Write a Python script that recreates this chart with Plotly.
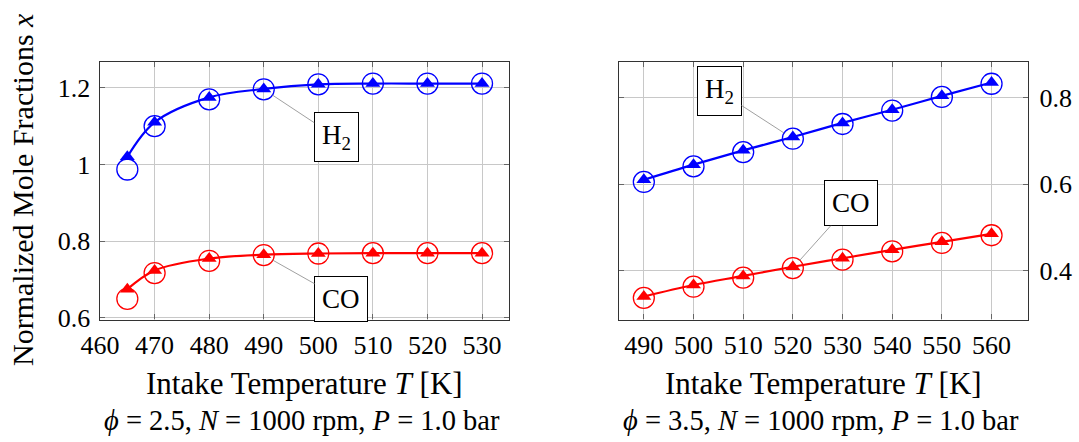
import plotly.graph_objects as go

# Left panel (phi = 2.5)
T_left = [465, 470, 480, 490, 500, 510, 520, 530]
h2_left_sim = [1.02, 1.11, 1.175, 1.197, 1.209, 1.211, 1.211, 1.211]
h2_left_exp = [0.987, 1.10, 1.17, 1.196, 1.209, 1.211, 1.211, 1.211]
co_left_sim = [0.675, 0.724, 0.755, 0.765, 0.768, 0.769, 0.769, 0.769]
co_left_exp = [0.65, 0.717, 0.749, 0.764, 0.768, 0.769, 0.769, 0.769]

# Right panel (phi = 3.5)
T_right = [490, 500, 510, 520, 530, 540, 550, 560]
h2_right_sim = [0.61, 0.645, 0.678, 0.709, 0.7415, 0.772, 0.804, 0.835]
h2_right_exp = [0.605, 0.641, 0.674, 0.705, 0.739, 0.770, 0.8016, 0.832]
co_right_sim = [0.340, 0.3667, 0.3877, 0.409, 0.4285, 0.448, 0.4665, 0.485]
co_right_exp = [0.337, 0.3629, 0.3838, 0.406, 0.4254, 0.4446, 0.464, 0.4818]

left_xticks = [460, 470, 480, 490, 500, 510, 520, 530]
left_yticks = [0.6, 0.8, 1.0, 1.2]
left_ytext = ["0.6", "0.8", "1", "1.2"]
right_xticks = [490, 500, 510, 520, 530, 540, 550, 560]
right_yticks = [0.4, 0.6, 0.8]

FONT = "Liberation Serif"
FS = 26
FT = 30
BLUE = "#0000ff"
RED = "#ff0000"

fig = go.Figure()

def add_series(x, sim, exp, color, xa, ya):
    fig.add_trace(go.Scatter(x=x, y=sim, mode="lines+markers", xaxis=xa, yaxis=ya,
                             line=dict(color=color, width=2.2, shape="spline"),
                             marker=dict(symbol="triangle-up", size=13, color=color),
                             showlegend=False, hoverinfo="skip"))
    fig.add_trace(go.Scatter(x=x, y=exp, mode="markers", xaxis=xa, yaxis=ya,
                             marker=dict(symbol="circle-open", size=21, color=color,
                                         line=dict(width=1.3, color=color)),
                             showlegend=False, hoverinfo="skip"))

add_series(T_left, h2_left_sim, h2_left_exp, BLUE, "x", "y")
add_series(T_left, co_left_sim, co_left_exp, RED, "x", "y")
add_series(T_right, h2_right_sim, h2_right_exp, BLUE, "x2", "y2")
add_series(T_right, co_right_sim, co_right_exp, RED, "x2", "y2")

axis_common = dict(showgrid=True, gridcolor="#c8c8c8", gridwidth=1,
                   showline=True, linecolor="#333333", linewidth=1.2, mirror="allticks",
                   ticks="inside", ticklen=5, tickcolor="#666666", zeroline=False,
                   automargin=False,
                   tickfont=dict(family=FONT, size=FS, color="black"))

ydom = [1 - 319.5 / 442, 1 - 61.7 / 442]
fig.update_layout(
    width=1079, height=442, margin=dict(l=0, r=0, t=0, b=0, pad=0, autoexpand=False),
    paper_bgcolor="white", plot_bgcolor="white",
    xaxis=dict(domain=[99.5 / 1079, 509.3 / 1079], range=[459.9, 535], tickvals=left_xticks,
               anchor="y", ticklabelstandoff=2, **axis_common),
    yaxis=dict(domain=ydom, range=[0.596, 1.268], tickvals=left_yticks, ticktext=left_ytext,
               anchor="x", ticklabelstandoff=3, **axis_common),
    xaxis2=dict(domain=[619 / 1079, 1028.3 / 1079], range=[485, 567.4], tickvals=right_xticks,
                anchor="y2", ticklabelstandoff=2, **axis_common),
    yaxis2=dict(domain=ydom, range=[0.287, 0.883], tickvals=right_yticks, side="right",
                anchor="x2", ticklabelstandoff=5, **axis_common),
)

def label(text, x, y, ax, ay, xref, yref):
    fig.add_annotation(x=x, y=y, ax=ax, ay=ay, xref=xref, yref=yref, axref=xref, ayref=yref,
                       text=text, showarrow=True, arrowhead=0, arrowwidth=0.8,
                       arrowcolor="#888888", standoff=10,
                       font=dict(family=FONT, size=27, color="black"),
                       bgcolor="white", bordercolor="black", borderwidth=1, borderpad=7)

label("H<sub>2</sub>", 490, h2_left_exp[3], 503.3, 1.071, "x", "y")
label("CO", 490, co_left_exp[3], 504.2, 0.65, "x", "y")
label("H<sub>2</sub>", 520, h2_right_exp[3], 505.2, 0.815, "x2", "y2")
label("CO", 520, co_right_exp[3], 531.7, 0.556, "x2", "y2")

def ptext(text, x, y, size, angle=0):
    fig.add_annotation(x=x, y=y, xref="paper", yref="paper", text=text, showarrow=False,
                       textangle=angle, xanchor="center", yanchor="middle",
                       font=dict(family=FONT, size=size, color="black"))

ptext("Intake Temperature <i>T</i> [K]", 304 / 1079, 1 - 383 / 442, 31)
ptext("Intake Temperature <i>T</i> [K]", 823 / 1079, 1 - 383 / 442, 31)
ptext("<i>ϕ</i> = 2.5, <i>N</i> = 1000 rpm, <i>P</i> = 1.0 bar", 302 / 1079, 1 - 420 / 442, 28.5)
ptext("<i>ϕ</i> = 3.5, <i>N</i> = 1000 rpm, <i>P</i> = 1.0 bar", 821 / 1079, 1 - 420 / 442, 28.5)
ptext("Normalized Mole Fractions <i>x</i>", 22 / 1079, 1 - 190 / 442, FT, angle=-90)

fig.write_html("out.html")
